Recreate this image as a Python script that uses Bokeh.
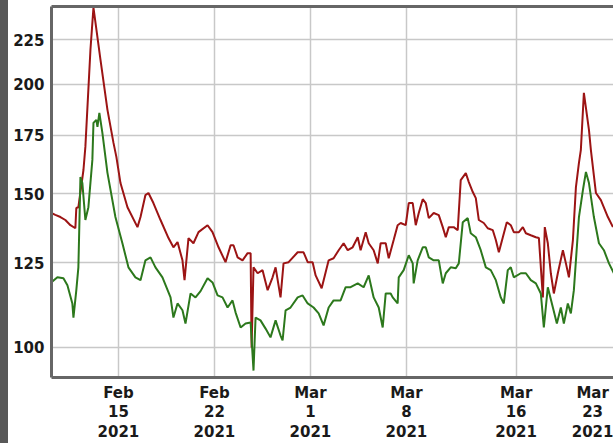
import pandas as pd
from bokeh.plotting import figure
from bokeh.layouts import row
from bokeh.models import FixedTicker, Range1d, LinearAxis, ColumnDataSource, Div
from bokeh.embed import file_html
from bokeh.resources import INLINE

# ---- data (days relative to 2021-02-15, values) ----
base_date = "2021-02-15"

red_day = [-4.9, -4.6, -4.23, -3.87, -3.5, -3.14, -3.07, -2.92, -2.55, -2.41, -2.04, -1.82, -1.31, -0.8,
           -0.36, -0.15, 0.15, 0.66, 1.39, 1.61, 1.97, 2.19, 2.55, 3.07, 3.65, 4.01, 4.31, 4.67, 4.82,
           5.11, 5.47, 5.84, 6.5, 6.86, 7.3, 7.81, 8.18, 8.39, 8.69, 9.05, 9.42, 9.64, 9.71, 9.85,
           10.15, 10.51, 10.88, 11.24, 11.46, 11.82, 12.04, 12.41, 13.07, 13.5, 13.8, 14.16, 14.38,
           14.82, 15.11, 15.33, 15.69, 16.06, 16.42, 16.72, 17.08, 17.45, 17.66, 18.03, 18.25, 18.61,
           18.91, 19.12, 19.49, 19.71, 20.07, 20.36, 20.58, 20.95, 21.17, 21.46, 21.68, 21.9, 22.19,
           22.41, 22.63, 22.99, 23.36, 23.65, 23.87, 24.09, 24.45, 24.74, 24.96, 25.33, 25.55, 25.84,
           26.06, 26.28, 26.64, 26.93, 27.3, 27.52, 27.74, 28.03, 28.32, 28.61, 28.83, 29.2, 29.49,
           29.71, 30.07, 30.44, 30.66, 30.95, 31.09, 31.31, 31.53, 31.75, 32.04, 32.41, 32.63, 32.85,
           33.14, 33.36, 33.58, 33.72, 33.94, 34.31, 34.45, 34.82, 35.18, 35.69, 36.06]
red_val = [142.5, 141.8, 141.0, 139.9, 138.0, 136.9, 144.4, 144.7, 159.6, 169.6, 219.1, 244.8, 213.4, 187.0,
           171.4, 165.2, 154.2, 144.7, 137.3, 141.0, 149.4, 150.2, 146.3, 139.9, 133.4, 130.2, 132.0, 125.8, 119.4,
           133.4, 131.6, 135.5, 138.0, 135.5, 130.2, 125.2, 130.9, 130.9, 126.8, 125.8, 128.2, 128.2, 100.0, 123.5,
           121.6, 122.6, 116.3, 120.3, 123.5, 114.1, 124.8, 125.2, 128.5, 128.5, 125.2, 125.2, 120.9,
           116.9, 121.9, 125.8, 126.5, 129.2, 131.6, 129.2, 130.2, 133.7, 129.2, 135.5, 131.6, 129.2,
           124.8, 131.6, 131.6, 126.5, 132.7, 138.0, 138.8, 138.0, 146.3, 146.3, 138.0, 142.5, 147.8,
           146.3, 140.6, 142.5, 141.7, 137.3, 133.7, 137.3, 137.3, 136.2, 155.4, 158.3, 154.6, 150.6,
           148.2, 139.9, 138.8, 136.9, 136.2, 132.7, 128.5, 133.7, 139.1, 138.0, 135.5, 135.5, 137.3,
           135.1, 134.4, 133.7, 133.4, 114.1, 137.3, 131.6, 121.6, 115.3, 121.6, 129.2, 124.8, 120.3,
           132.7, 152.6, 162.6, 168.3, 195.6, 177.4, 168.3, 150.2, 147.4, 141.0, 137.3]

green_day = [-4.9, -4.45, -4.01, -3.72, -3.36, -3.28, -3.07, -2.92, -2.77, -2.63, -2.41, -2.19, -1.9, -1.82,
             -1.61, -1.53, -1.39, -1.17, -0.8, -0.22, 0.29, 0.73, 1.24, 1.61, 1.97, 2.34, 2.7, 3.21, 3.8,
             4.01, 4.31, 4.67, 4.89, 5.26, 5.62, 5.99, 6.5, 6.86, 7.23, 7.59, 7.96, 8.32, 8.54, 8.91,
             9.27, 9.64, 9.85, 10.0, 10.36, 10.73, 11.09, 11.46, 11.82, 11.97, 12.19, 12.55, 13.07, 13.43,
             13.8, 14.23, 14.6, 14.96, 15.33, 15.69, 16.2, 16.57, 16.93, 17.45, 17.88, 18.25, 18.61, 18.98,
             19.27, 19.49, 19.85, 20.0, 20.36, 20.44, 20.8, 21.17, 21.46, 21.53, 21.82, 22.19, 22.41, 22.63,
             22.99, 23.36, 23.65, 23.87, 24.23, 24.6, 24.82, 25.11, 25.47, 25.69, 26.06, 26.42, 26.79, 27.15,
             27.52, 27.88, 28.1, 28.39, 28.61, 28.83, 29.34, 29.71, 30.07, 30.44, 30.8, 31.02, 31.31, 31.68,
             31.97, 32.26, 32.48, 32.77, 32.99, 33.21, 33.58, 33.87, 34.09, 34.31, 34.67, 35.04, 35.4, 35.77,
             36.13]
green_val = [118.7, 120.3, 120.0, 117.8, 112.3, 108.2, 116.3, 123.5, 156.7, 154.2, 139.9, 144.7, 163.9, 180.7,
             182.1, 178.8, 185.5, 176.0, 158.4, 141.0, 131.6, 123.5, 120.3, 119.4, 125.8, 126.8, 123.5, 120.3, 114.1,
             108.2, 112.3, 110.3, 106.5, 115.3, 114.1, 116.0, 120.0, 118.7, 114.7, 114.1, 111.1, 113.2, 109.7, 105.4,
             106.5, 106.8, 94.1, 108.2, 107.4, 105.1, 102.7, 107.4, 103.2, 101.9, 110.3, 111.1, 114.1, 114.7,
             112.3, 111.1, 109.4, 106.0, 111.1, 113.2, 113.2, 117.2, 117.2, 118.4, 117.2, 120.9, 114.1, 111.1,
             105.4, 115.3, 115.3, 114.1, 112.3, 120.3, 122.6, 127.5, 124.8, 118.4, 125.8, 130.2, 130.2, 126.8,
             125.8, 125.8, 118.4, 121.6, 123.5, 123.2, 124.8, 139.1, 140.6, 135.1, 133.7, 129.2, 123.5, 122.6,
             119.4, 114.1, 112.3, 122.6, 123.5, 120.3, 121.6, 121.6, 119.4, 118.4, 115.3, 105.4, 117.2, 111.1,
             106.5, 111.1, 106.5, 112.3, 109.4, 116.3, 141.0, 151.4, 158.8, 154.2, 141.0, 131.6, 129.2, 124.8,
             121.6]

tick_dates = ["2021-02-15", "2021-02-22", "2021-03-01", "2021-03-08", "2021-03-16", "2021-03-23"]
tick_labels = ["Feb\n15\n2021", "Feb\n22\n2021", "Mar\n1\n2021", "Mar\n8\n2021", "Mar\n16\n2021", "Mar\n23\n2021"]
y_ticks = [100, 125, 150, 175, 200, 225]

# ---- build ----
base = pd.Timestamp(base_date)
red_src = ColumnDataSource(dict(t=base + pd.to_timedelta(red_day, unit="D"), v=red_val))
green_src = ColumnDataSource(dict(t=base + pd.to_timedelta(green_day, unit="D"), v=green_val))

tick_ms = [int(pd.Timestamp(d).value // 10**6) for d in tick_dates]

p = figure(width=605, height=443, x_axis_type="datetime", y_axis_type="log",
           x_range=Range1d(base + pd.Timedelta(days=-4.88), base + pd.Timedelta(days=36.1)),
           y_range=Range1d(92.4, 245.5),
           output_backend="svg", toolbar_location=None,
           min_border_left=43, min_border_right=0, min_border_top=6, min_border_bottom=10)

p.outline_line_color = None
p.background_fill_color = "white"
p.border_fill_color = "white"

p.line("t", "v", source=red_src, line_color="#9c1414", line_width=2)
p.line("t", "v", source=green_src, line_color="#2c781c", line_width=2)

font = "DejaVu Sans"

p.xaxis.ticker = FixedTicker(ticks=tick_ms)
p.xaxis.major_label_overrides = {ms: lab for ms, lab in zip(tick_ms, tick_labels)}
p.yaxis.ticker = FixedTicker(ticks=y_ticks)
p.yaxis.major_label_overrides = {t: str(t) for t in y_ticks}

for ax in (p.xaxis[0], p.yaxis[0]):
    ax.axis_line_color = "#666666"
    ax.axis_line_width = 3
    ax.major_tick_line_color = None
    ax.minor_tick_line_color = None
    ax.major_label_text_font = font
    ax.major_label_text_font_style = "bold"
    ax.major_label_text_font_size = "15px"
    ax.major_label_text_color = "#1a1a1a"
p.xaxis.major_label_standoff = 0
p.xaxis.major_label_text_line_height = 1.09
p.yaxis.major_label_standoff = 1

top_axis = LinearAxis(ticker=FixedTicker(ticks=[]), axis_line_color="#666666", axis_line_width=3,
                      major_tick_line_color=None, minor_tick_line_color=None,
                      major_label_text_font_size="0px")
p.add_layout(top_axis, "above")

# grid only at the ticks that lie inside the frame
p.xgrid.ticker = FixedTicker(ticks=tick_ms[:-1])
p.ygrid.ticker = FixedTicker(ticks=y_ticks)
p.grid.grid_line_color = "#c8c8c8"
p.grid.grid_line_width = 1.5
p.ygrid.minor_grid_line_color = None

strip = Div(width=8, height=443, margin=0, styles={"background-color": "#585858"})
layout = row(strip, p, spacing=0)

open("out.html", "w").write(file_html(layout, INLINE))
